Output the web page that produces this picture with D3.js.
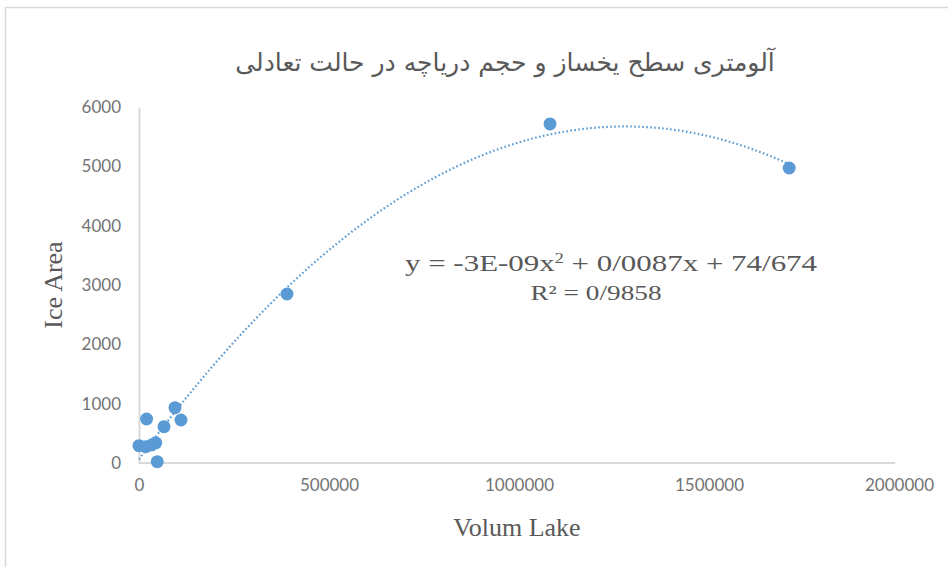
<!DOCTYPE html>
<html>
<head>
<meta charset="utf-8">
<script src="https://cdn.jsdelivr.net/npm/d3@7"></script>
<style>
  body { margin: 0; background: #fff; }
  .tick text { font-family: Lato, "Open Sans", sans-serif; font-size: 17px; fill: #737373; }
  .axis path, .axis line { stroke: #d9d9d9; }
</style>
</head>
<body>
<div id="chart"></div>
<script>
// Values
const volume = [0, 17600, 20000, 33000, 44000, 48000, 65800, 94700, 110500, 389500, 1081600, 1711000];
const iceArea = [292, 275, 742, 303, 340, 22, 612, 932, 725, 2848, 5714, 4972];
const xTicks = [0, 500000, 1000000, 1500000, 2000000];
const yTicks = [0, 1000, 2000, 3000, 4000, 5000, 6000];
const titleText = "آلومتری سطح یخساز و حجم دریاچه در حالت تعادلی";
const equationText = ["y = -3E-09x", "2", " + 0/0087x + 74/674"];
const r2Text = "R² = 0/9858";

const W = 948, H = 567;
const margin = { top: 107, right: 49, bottom: 104, left: 139 };
const width = W - margin.left - margin.right;
const height = H - margin.top - margin.bottom;
const BLUE = "#5b9bd5";

const svg = d3.select("#chart").append("svg")
  .attr("width", W).attr("height", H);

// chart area border
svg.append("rect")
  .attr("x", 5.5).attr("y", 7.5).attr("width", W).attr("height", H)
  .attr("fill", "#fff").attr("stroke", "#d9d9d9").attr("stroke-width", 1.5);

const g = svg.append("g").attr("transform", `translate(${margin.left},${margin.top})`);

const x = d3.scaleLinear().domain([0, 2000000]).range([0, width]);
const y = d3.scaleLinear().domain([0, 6000]).range([height, 0]);

// axes (no tick marks, light lines)
const xAxis = g.append("g").attr("class", "axis")
  .attr("transform", `translate(0,${height})`)
  .call(d3.axisBottom(x).tickValues(xTicks).tickFormat(d3.format("d")).tickSize(0).tickPadding(16));
xAxis.select(".domain").attr("stroke-width", 2).attr("d", `M0,0H${x(1990000)}`);

const yAxis = g.append("g").attr("class", "axis")
  .call(d3.axisLeft(y).tickValues(yTicks).tickFormat(d3.format("d")).tickSize(0).tickPadding(18));
yAxis.select(".domain").attr("stroke-width", 2);

// quadratic least-squares trendline (like Excel's polynomial trendline)
const pts = volume.map((v, i) => [v, iceArea[i]]);
function polyFit2(p) {
  const s = k => d3.sum(p, d => Math.pow(d[0], k));
  const t = k => d3.sum(p, d => Math.pow(d[0], k) * d[1]);
  const A = [[s(0), s(1), s(2)], [s(1), s(2), s(3)], [s(2), s(3), s(4)]];
  const b = [t(0), t(1), t(2)];
  for (let i = 0; i < 3; i++) {
    for (let j = i + 1; j < 3; j++) {
      const f = A[j][i] / A[i][i];
      for (let k = i; k < 3; k++) A[j][k] -= f * A[i][k];
      b[j] -= f * b[i];
    }
  }
  const c = [0, 0, 0];
  for (let i = 2; i >= 0; i--) {
    let sum = b[i];
    for (let k = i + 1; k < 3; k++) sum -= A[i][k] * c[k];
    c[i] = sum / A[i][i];
  }
  return c;
}
const coef = polyFit2(pts);
const xs = d3.range(0, 301).map(i => d3.min(volume) + (d3.max(volume) - d3.min(volume)) * i / 300);
const trend = d3.line().x(d => x(d)).y(d => y(coef[0] + coef[1] * d + coef[2] * d * d));
g.append("path").datum(xs)
  .attr("fill", "none").attr("stroke", BLUE).attr("stroke-width", 2.2)
  .attr("stroke-dasharray", "1.6,2.4").attr("d", trend);

// markers
g.selectAll("circle.pt").data(pts).join("circle")
  .attr("class", "pt")
  .attr("cx", d => x(d[0])).attr("cy", d => y(d[1])).attr("r", 6.5)
  .attr("fill", BLUE);

// title
svg.append("text")
  .attr("x", 505).attr("y", 71).attr("text-anchor", "middle")
  .attr("direction", "rtl")
  .style("font-family", "'DejaVu Sans', sans-serif").style("font-size", "25px").attr("fill", "#595959")
  .text(titleText);

// axis titles
svg.append("text")
  .attr("transform", `translate(62,285) rotate(-90)`).attr("text-anchor", "middle")
  .style("font-family", "'Liberation Serif', serif").style("font-size", "26px").attr("fill", "#595959")
  .text("Ice Area");
svg.append("text")
  .attr("x", 517).attr("y", 536).attr("text-anchor", "middle")
  .style("font-family", "'Liberation Serif', serif").style("font-size", "26px").attr("fill", "#595959")
  .text("Volum Lake");

// equation label (the reference text is a little stretched horizontally)
const eqG = svg.append("g").attr("transform", "translate(611,271) scale(1.29,1)");
const eq = eqG.append("text").attr("text-anchor", "middle")
  .style("font-family", "'Liberation Serif', serif").style("font-size", "24px").attr("fill", "#595959");
eq.append("tspan").text(equationText[0]);
eq.append("tspan").attr("dy", -8).style("font-size", "14px").text(equationText[1]);
eq.append("tspan").attr("dy", 8).text(equationText[2]);
svg.append("g").attr("transform", "translate(596,300) scale(1.3,1)")
  .append("text").attr("text-anchor", "middle")
  .style("font-family", "'Liberation Serif', serif").style("font-size", "21px").attr("fill", "#595959")
  .text(r2Text);
</script>
</body>
</html>
